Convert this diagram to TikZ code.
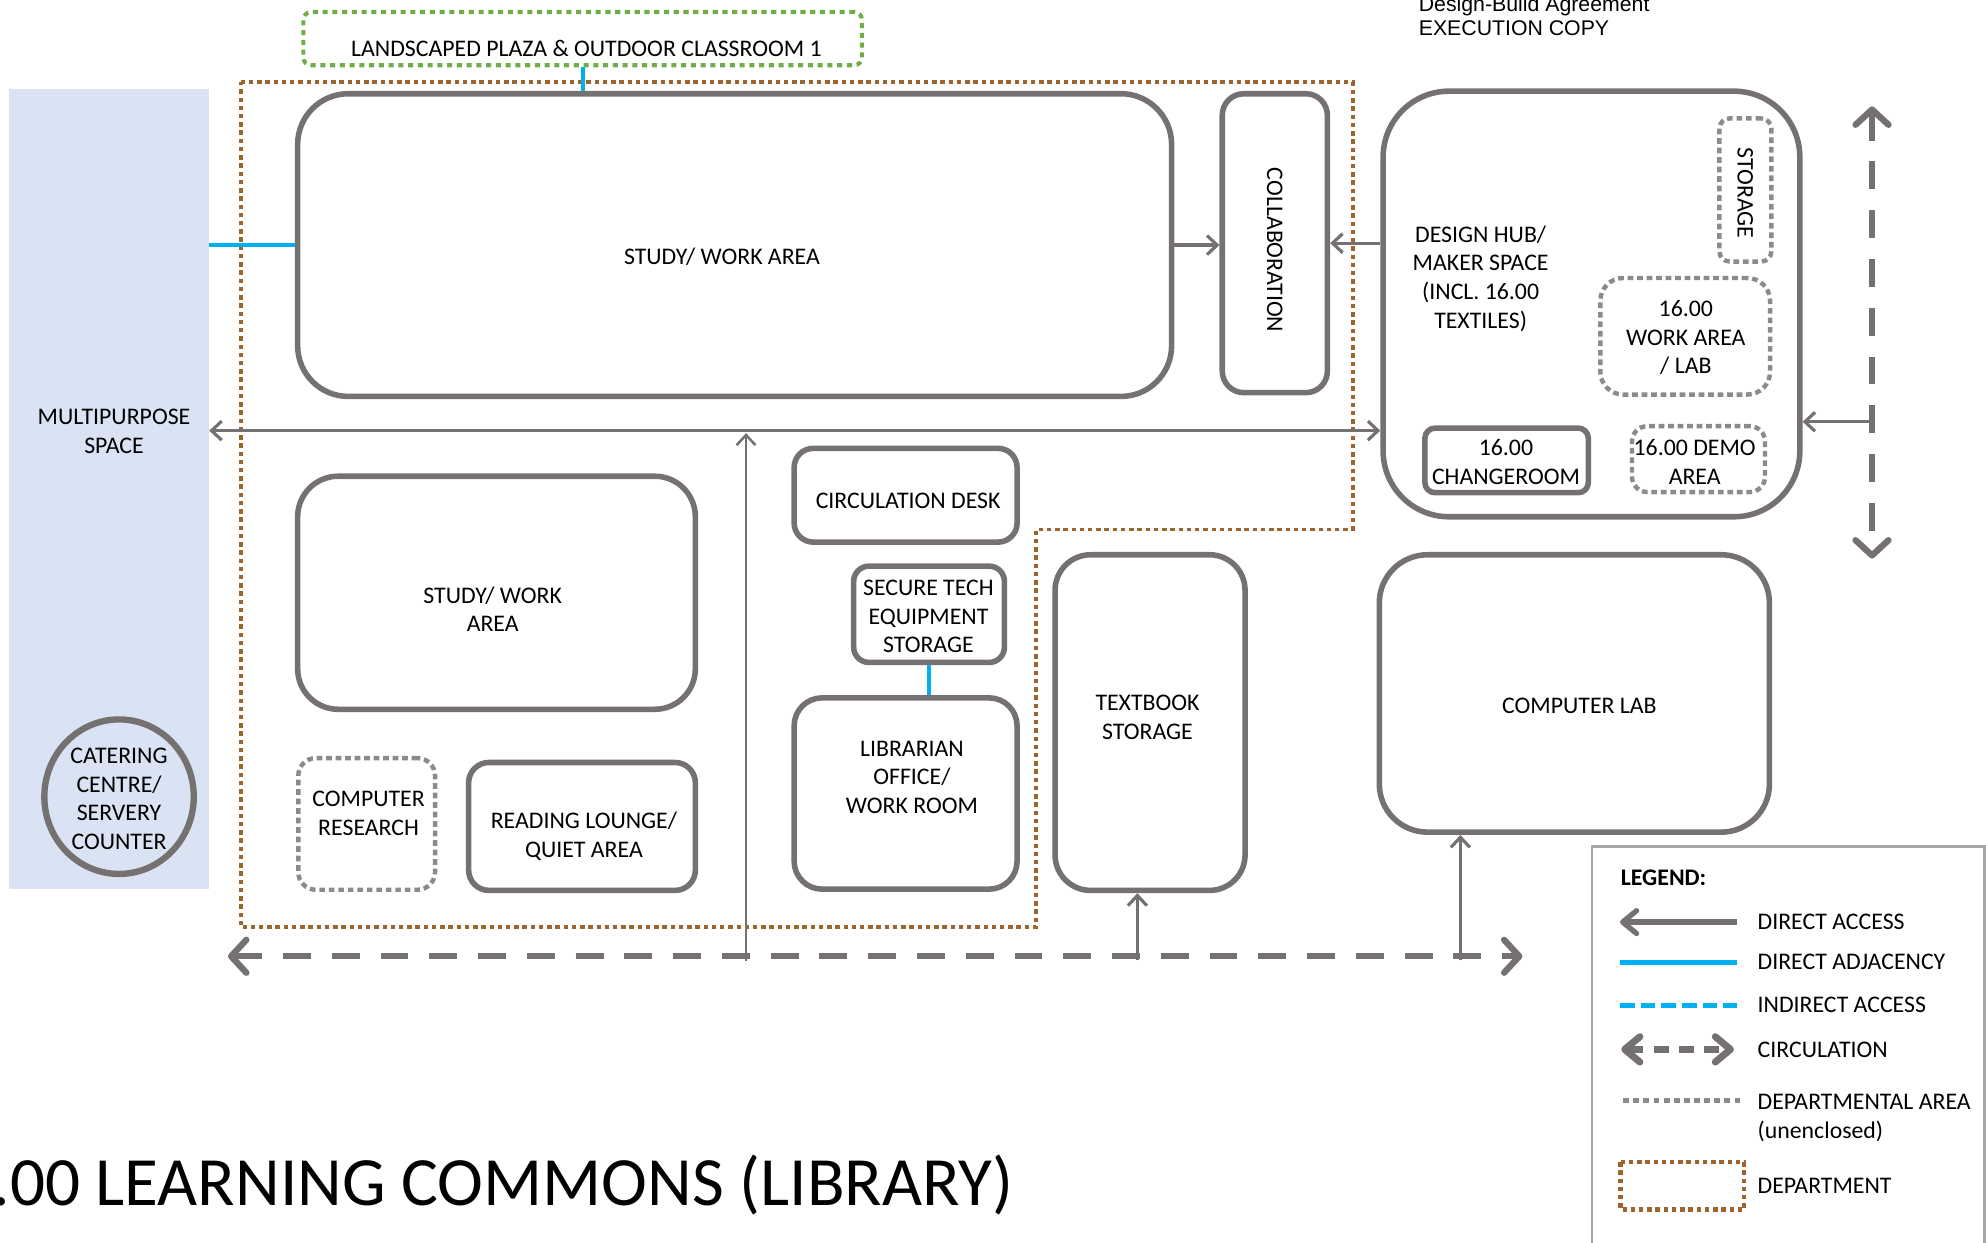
\documentclass[tikz,border=0pt]{standalone}
\usepackage{fontspec}
\setmainfont{Carlito}
\newfontfamily\arialf{Liberation Sans}
\usetikzlibrary{arrows.meta,shapes.geometric}
\definecolor{boxgray}{HTML}{767171}
\definecolor{dotgray}{HTML}{8E8A8A}
\definecolor{adjcyan}{HTML}{00B0F0}
\definecolor{deptbrown}{HTML}{9E642E}
\definecolor{plazagreen}{HTML}{70AD47}
\definecolor{mpblue}{HTML}{DAE3F3}
\definecolor{leggray}{HTML}{A6A6A6}
\begin{document}
\begin{tikzpicture}[x=1pt,y=-1pt,
  room/.style={draw=boxgray, line width=4.4pt, rounded corners=#1, inner sep=0pt},
  droom/.style={draw=dotgray, line width=3.5pt, dash pattern=on 4.5pt off 3pt, rounded corners=#1, inner sep=0pt},
  lbl/.style={font=\fontsize{18.8}{22.7}\selectfont, align=center, inner sep=0pt, yshift=-2.5pt,
              execute at begin node=\strut, execute at end node=\strut},
  ltxt/.style={font=\fontsize{18.8}{22.7}\selectfont, inner sep=0pt, anchor=base west},
  acc/.style={draw=boxgray, line width=2.5pt, >={Straight Barb[length=8pt,width=15pt]}},
  adj/.style={draw=adjcyan, line width=3pt},
  circ/.style={draw=boxgray, line width=5pt, dash pattern=on 22pt off 16.5pt,
               arrows={Straight Barb[length=12pt,width=26pt,round]-Straight Barb[length=12pt,width=26pt,round]}},
  dept/.style={draw=deptbrown, line width=3pt, dash pattern=on 3.5pt off 3pt},
  plaza/.style={draw=plazagreen, line width=3.2pt, dash pattern=on 4pt off 3.7pt, rounded corners=6pt, inner sep=0pt}
]
\useasboundingbox (0,0) rectangle (1568,981);

% multipurpose space
\node[fill=mpblue, inner sep=0pt, minimum width=158, minimum height=632] (mp) at (86,386) {};
\node[lbl] (t-mp) at (90,341.5) {MULTIPURPOSE\\SPACE};
\node[ellipse, draw=boxgray, line width=5pt, fill=mpblue, minimum width=118, minimum height=122, inner sep=0pt] (cater) at (94,629) {};
\node[lbl] (t-cater) at (94,631.5) {CATERING\\CENTRE/\\SERVERY\\COUNTER};

% department boundary
\draw[dept] (190,65) -- (1068,65) -- (1068,418) -- (818,418) -- (818,732) -- (190,732) -- cycle;

% plaza
\node[plaza, minimum width=441, minimum height=42] (plz) at (460,30.5) {};
\node[lbl] (t-plz) at (463,37.5) {LANDSCAPED PLAZA \& OUTDOOR CLASSROOM 1};

% rooms
\node[room=40pt, minimum width=690, minimum height=239] (study) at (580,193.5) {};
\node[lbl] (t-study) at (570,201.5) {STUDY/ WORK AREA};
\node[room=17pt, minimum width=83, minimum height=236] (collab) at (1006.5,192) {};
\node[lbl, rotate=-90] (t-collab) at (1005,195) {COLLABORATION};
\node[room=52pt, minimum width=329, minimum height=336] (hub) at (1256.5,240) {};
\node[lbl] (t-hub) at (1169,219.5) {DESIGN HUB/\\MAKER SPACE\\(INCL. 16.00\\TEXTILES)};
\node[droom=8pt, minimum width=41, minimum height=113] (stor) at (1378,150) {};
\node[lbl, rotate=-90] (t-stor) at (1376.5,150) {STORAGE};
\node[droom=18pt, minimum width=134, minimum height=92] (work) at (1330.5,265.5) {};
\node[lbl] (t-work) at (1331,267) {16.00\\WORK AREA\\/ LAB};
\node[room=8pt, minimum width=129, minimum height=51] (change) at (1189.5,363.5) {};
\node[lbl] (t-change) at (1189,365.5) {16.00\\CHANGEROOM};
\node[droom=12pt, minimum width=105, minimum height=52] (demo) at (1341,362.5) {};
\node[lbl] (t-demo) at (1338,365.5) {16.00 DEMO\\AREA};

\node[room=15pt, minimum width=176, minimum height=74] (desk) at (715,391) {};
\node[lbl] (t-desk) at (717,394.5) {CIRCULATION DESK};
\node[room=12pt, minimum width=119, minimum height=76] (secure) at (733.5,485) {};
\node[lbl] (t-secure) at (733,487.5) {SECURE TECH\\EQUIPMENT\\STORAGE};
\node[room=22pt, minimum width=176, minimum height=151] (libr) at (715,626.5) {};
\node[lbl] (t-libr) at (720,614.5) {LIBRARIAN\\OFFICE/\\WORK ROOM};
\node[room=32pt, minimum width=314, minimum height=184] (study2) at (392,468) {};
\node[lbl] (t-study2) at (389,482) {STUDY/ WORK\\AREA};
\node[droom=14pt, minimum width=108, minimum height=104] (compres) at (289.5,650.5) {};
\node[lbl] (t-compres) at (291,643) {COMPUTER\\RESEARCH};
\node[room=16pt, minimum width=179, minimum height=101] (read) at (459.5,652.5) {};
\node[lbl] (t-read) at (461,660) {READING LOUNGE/\\QUIET AREA};
\node[room=28pt, minimum width=150, minimum height=265] (textb) at (908,570.5) {};
\node[lbl] (t-textb) at (906,567) {TEXTBOOK\\STORAGE};
\node[room=38pt, minimum width=308, minimum height=219] (clab) at (1243,547.5) {};
\node[lbl] (t-clab) at (1247,556.5) {COMPUTER LAB};

% adjacency lines
\draw[adj] (plz.south) -- (plz.south |- study.north);
\draw[adj] (study.west -| mp.east) -- (study.west);
\draw[adj] (secure.south) -- (secure.south |- libr.north);

% direct access
\coordinate (h340) at (600,340);
\coordinate (cb589) at (589,759);
\coordinate (cb898) at (898,758);
\coordinate (cb1153) at (1153,758);
\coordinate (r333) at (1478,333);
\draw[acc,->] (study.east) -- (study.east -| collab.west);
\draw[acc,->] (hub.west |- collab.east) -- (collab.east);
\draw[acc,<->] (mp.east |- h340) -- (hub.west |- h340);
\draw[acc,->,line width=2pt] (cb589) -- (589,342);
\draw[acc,->] (r333) -- (r333 -| hub.east);
\draw[acc,->] (cb898) -- (cb898 |- textb.south);
\draw[acc,->] (cb1153) -- (cb1153 |- clab.south);

% circulation
\coordinate (cbl) at (180,755);
\coordinate (cbr) at (1202,755);
\coordinate (crt) at (1478,84);
\coordinate (crb) at (1478,441);
\draw[circ] (cbl) -- (cbr);
\draw[circ] (crt) -- (crb);

% legend
\draw[leggray, line width=2pt] (1257,995) -- (1257,668.5) -- (1567,668.5) -- (1567,995);
\node[ltxt, font=\fontsize{18.8}{22.7}\selectfont\bfseries] (lg) at (1279.5,699) {LEGEND:};
\coordinate (la1) at (1371,728); \coordinate (la2) at (1279,728);
\draw[boxgray, line width=4.2pt, arrows={-Straight Barb[length=11pt,width=18pt,round]}] (la1) -- (la2);
\node[ltxt] (l1) at (1387.5,734) {DIRECT ACCESS};
\coordinate (lb1) at (1279,760); \coordinate (lb2) at (1371,760);
\draw[adjcyan, line width=3.7pt] (lb1) -- (lb2);
\node[ltxt] (l2) at (1387.5,765.5) {DIRECT ADJACENCY};
\coordinate (lc1) at (1279,794); \coordinate (lc2) at (1371,794);
\draw[adjcyan, line width=3.7pt, dash pattern=on 11.6pt off 4.7pt] (lc1) -- (lc2);
\node[ltxt] (l3) at (1387.5,799.5) {INDIRECT ACCESS};
\coordinate (ld1) at (1280,828.5); \coordinate (ld2) at (1369,828.5);
\draw[boxgray, line width=5.5pt, dash pattern=on 12pt off 8pt,
  arrows={Straight Barb[length=12pt,width=20pt,round]-Straight Barb[length=12pt,width=20pt,round]}] (ld1) -- (ld2);
\node[ltxt] (l4) at (1387.5,835) {CIRCULATION};
\coordinate (le1) at (1281.5,869); \coordinate (le2) at (1374,869);
\draw[dotgray, line width=3.7pt, dash pattern=on 4.7pt off 3.3pt] (le1) -- (le2);
\node[ltxt] (l5) at (1387.5,876) {DEPARTMENTAL AREA};
\node[ltxt] (l5b) at (1387.5,898.5) {(unenclosed)};
\draw[dept, line width=3.5pt] (1279.5,917.5) rectangle (1377,955);
\node[ltxt] (l6) at (1387.5,942) {DEPARTMENT};

% title
\node[inner sep=0pt, anchor=base west, font=\fontsize{54.6}{60}\selectfont] (title) at (-6,952) {.00 LEARNING COMMONS (LIBRARY)};

% top-right note
\node[inner sep=0pt, anchor=base west, font=\arialf\fontsize{16.8}{19}\selectfont] (dba1) at (1120,9) {Design-Build Agreement};
\node[inner sep=0pt, anchor=base west, font=\arialf\fontsize{16.8}{19}\selectfont] (dba2) at (1120,28) {EXECUTION COPY};
\end{tikzpicture}
\end{document}
